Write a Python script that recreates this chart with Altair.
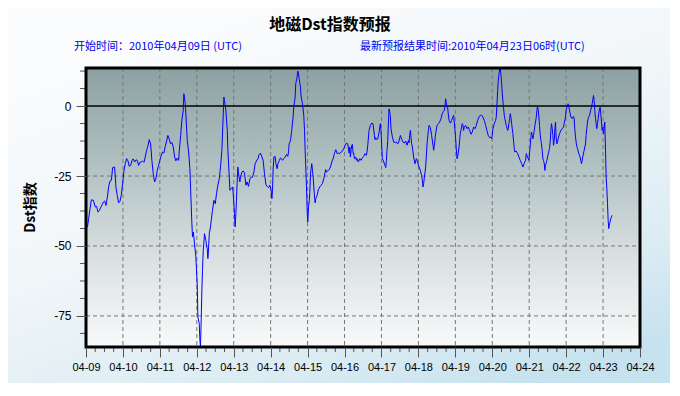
import altair as alt
import pandas as pd

# ---- data (hours since 2010-04-09 00 UTC, Dst nT) ----
hours = [
    1.0, 1.7, 2.6, 3.5, 4.8, 6.1, 6.9, 7.8, 8.7, 10.0, 11.3, 12.1, 13.0, 13.9, 14.7, 15.6, 16.5, 17.3, 18.6, 19.5,
    20.3, 21.2, 22.1, 22.9, 23.8, 24.7, 25.5, 26.4, 27.3, 28.1, 29.0, 29.9, 30.7, 31.6, 32.5, 33.3, 34.2, 35.1, 35.9, 36.8,
    37.7, 38.5, 39.4, 40.2, 41.1, 42.0, 42.8, 43.7, 44.6, 45.4, 46.3, 47.2, 48.0, 48.9, 49.8, 50.6, 51.5, 52.4, 53.2, 54.1,
    55.0, 55.8, 56.7, 57.6, 58.4, 59.3, 60.2,
    60.6, 61.5, 62.3, 63.2, 63.6, 64.5, 64.9, 65.8, 66.7, 67.5, 68.0, 68.8, 69.2, 69.7, 70.1, 70.5, 71.4, 72.3, 72.7, 73.6,
    74.0, 74.4, 74.9, 75.3, 75.7, 76.2, 76.6, 77.0, 77.9, 78.3, 78.8, 79.2, 79.6, 80.1, 80.9, 81.4, 82.2, 83.1, 84.0, 84.8,
    85.7, 86.6, 87.4, 88.3, 89.2, 89.6, 90.0, 90.9, 91.8, 92.2, 93.1, 93.5, 94.4, 95.2, 95.6, 96.5, 96.9, 97.4, 98.2, 98.7,
    99.1, 100.0, 100.4, 101.3, 102.1, 103.0, 103.9, 104.7, 105.6, 106.5, 107.3, 108.2, 109.1, 109.9, 110.8, 111.7, 112.5,
    113.4, 114.3, 115.1, 116.0, 116.9, 117.7, 118.6, 119.5, 120.3, 120.8, 121.2,
    121.6, 122.1, 122.9, 123.4, 124.2, 124.7, 125.5, 126.4, 126.8, 127.7, 128.5, 129.4, 130.3, 131.1, 131.6, 132.0, 132.9,
    133.7, 134.6, 135.0, 135.9, 136.3, 137.2, 137.6, 138.1, 138.5, 139.4, 139.8, 140.7, 141.5, 142.0, 142.4, 143.3, 143.7,
    144.1, 144.6, 145.0, 145.4, 145.9, 146.3, 146.7, 147.2, 147.6, 148.5, 148.9, 149.3, 150.2, 151.0, 151.9, 152.8, 153.6,
    154.5, 155.4, 155.8, 156.2, 157.1, 158.0, 158.8, 159.7, 160.6, 161.4, 162.3, 163.2, 164.0, 164.9, 165.8, 166.6, 167.5,
    168.4, 169.2, 170.1, 171.0, 171.4, 171.8, 172.3, 172.7, 173.1, 173.6, 174.0, 174.4, 175.3, 175.7, 176.1, 177.0, 177.9,
    178.7, 179.6, 180.5, 181.3, 182.2, 182.6, 183.1,
    183.9, 184.8, 185.7, 186.5, 187.4, 187.8, 188.3, 189.1, 189.6, 190.0, 190.4, 190.9, 191.3, 191.7, 192.2, 192.6, 193.5,
    194.3, 194.8, 195.2, 195.6, 196.1, 196.5, 196.9, 197.4, 197.8, 198.2, 199.1, 200.0, 200.8, 201.7, 202.6, 203.4, 204.3,
    205.2, 206.0, 206.9, 207.7, 208.6, 209.5, 209.9, 210.3, 210.8, 211.2, 211.6, 212.1, 212.9, 213.8, 214.7, 215.5, 216.4,
    217.3, 218.1, 218.6, 219.0, 219.4, 219.9, 220.7, 221.2, 221.6, 222.5, 222.9, 223.8, 224.6, 225.5, 225.9, 226.4, 226.8,
    227.2, 228.1, 229.0, 229.8, 230.7, 231.5, 232.4, 232.9, 233.3, 233.7, 234.1, 234.6, 235.0, 235.4, 235.9, 236.8, 237.6,
    238.5, 238.9, 239.3, 239.8, 240.2, 240.6, 241.1, 241.5, 242.0, 242.4, 242.8, 243.2, 244.1,
    244.5, 245.0, 245.4, 245.8, 246.7, 247.6, 248.4, 249.3, 250.2, 251.0, 251.9, 252.8, 253.6, 254.5, 255.4, 256.2, 257.1,
    257.9, 258.8, 259.7, 260.5, 261.4, 262.3, 263.1, 263.6, 264.0, 264.4, 265.3, 266.2, 266.6, 267.0, 267.5, 267.9, 268.3,
    268.8, 269.2, 269.6, 270.1, 270.5, 270.9, 271.4, 271.8, 272.2, 273.1, 274.0, 274.4, 274.8, 275.3, 275.7, 276.1, 276.6,
    277.0, 277.4, 277.9, 278.3, 278.7, 279.6, 280.5, 281.3, 282.2, 283.1, 283.9, 284.8, 285.7, 286.1, 286.5, 287.4, 287.8,
    288.2, 288.7, 289.1, 289.5, 290.0, 290.4, 290.8, 291.3, 291.7, 292.1, 292.6, 293.0, 293.4, 293.9, 294.3, 294.7, 295.2,
    295.6, 296.0, 296.5, 296.9, 297.3, 297.8, 298.2, 298.6, 299.5, 300.4, 301.2, 301.7, 302.1, 302.5, 303.0, 303.4, 303.8,
    304.3, 304.7, 305.1,
    305.5, 306.0, 306.4, 306.8, 307.7, 308.6, 309.4, 310.3, 310.7, 311.6, 312.0, 312.5, 313.3, 313.8, 314.6, 315.1, 315.9,
    316.8, 317.2, 317.6, 318.1, 318.5, 319.0, 319.4, 320.2, 321.1, 321.5, 322.0, 322.8, 323.7, 324.6, 325.0, 325.4, 325.9,
    326.3, 327.2, 328.0, 328.9, 329.8, 330.2, 330.6, 331.1, 331.5, 331.9, 332.4, 332.8, 333.2, 333.7, 334.1, 334.5, 335.0,
    335.4, 335.8, 336.3, 336.7, 337.1, 337.6, 338.0, 338.4, 338.9, 339.3, 339.7, 340.2, 340.6, 341.0, 341.5, 341.9,
]
dst = [
    -43.2, -40.2, -36.7, -33.5, -33.7, -36.1, -35.8, -37.9, -37.3, -35.8, -34.3, -33.9, -35.5, -32.5, -28.9, -26.8, -26.5, -22.0, -21.8, -29.2,
    -31.9, -34.6, -34.0, -31.9, -27.7, -23.0, -20.6, -18.8, -19.6, -21.5, -21.2, -19.4, -18.9, -20.0, -19.2, -19.4, -21.2, -20.1, -20.0, -19.6,
    -20.1, -18.2, -15.8, -14.4, -12.0, -13.5, -19.4, -24.2, -27.1, -26.0, -23.0, -21.2, -19.4, -17.6, -16.4, -16.8, -14.4, -12.5, -10.5, -11.8,
    -13.5, -13.0, -14.6, -18.2, -19.6, -18.6, -19.4,
    -16.1, -10.5, -5.1, -1.5, 4.4, 0.8, -2.7, -12.3, -16.4, -22.4, -30.1, -42.0, -46.8, -45.0, -46.8, -49.2, -53.9, -64.0, -75.4, -77.7,
    -83.7, -86.0, -75.4, -65.8, -58.7, -51.5, -48.6, -45.6, -48.0, -49.8, -51.0, -54.5, -51.5, -45.6, -43.2, -40.8, -37.3, -33.7, -34.9, -31.3,
    -28.3, -26.0, -21.8, -15.8, -2.7, 3.2, 2.0, -1.5, -8.7, -15.8, -25.4, -30.1, -29.5, -28.9, -30.7, -38.5, -43.2, -38.5, -27.7, -21.8,
    -24.2, -27.1, -25.4, -23.6, -23.2, -23.9, -28.3, -27.1, -28.7, -26.0, -25.4, -25.4, -23.6, -20.6, -19.6, -18.8, -17.3,
    -16.8, -18.2, -19.4, -24.2, -28.0, -28.7, -29.2, -28.3, -30.1, -33.1, -30.1,
    -22.5, -18.2, -18.0, -20.6, -22.4, -20.6, -19.6, -18.5, -18.8, -19.4, -18.8, -18.2, -17.3, -18.0, -16.4, -13.5, -12.3,
    -8.7, -3.9, -0.4, 3.2, 8.0, 10.4, 12.5, 11.5, 9.8, 6.8, 3.2, 0.8, -3.3, -8.7, -15.8, -28.9, -37.3,
    -41.4, -36.1, -34.3, -31.3, -24.2, -22.4, -20.6, -23.0, -25.4, -32.5, -34.6, -33.1, -31.9, -29.9, -28.9, -28.3, -27.7,
    -26.0, -23.6, -22.7, -23.6, -23.2, -22.7, -21.8, -20.0, -18.8, -17.0, -15.6, -17.0, -16.8, -17.0, -16.4, -16.1, -15.2,
    -14.0, -13.2, -13.5, -16.8, -14.6, -18.2, -15.6, -14.0, -13.7, -17.0, -16.8, -18.8, -18.2, -19.4, -18.8, -20.0, -18.8,
    -19.4, -18.5, -18.0, -17.0, -17.6, -16.4, -14.0,
    -8.7, -6.9, -6.1, -6.3, -10.5, -12.0, -11.3, -12.0, -11.7, -10.8, -9.6, -7.5, -6.3, -8.7, -14.6, -18.8, -20.0,
    -21.2, -22.0, -19.4, -15.8, -12.3, -6.3, -1.0, -2.1, -3.9, -8.1, -11.1, -12.9, -13.0, -12.9, -13.5, -12.5, -10.5,
    -12.0, -12.9, -13.2, -12.5, -14.0, -12.3, -13.2, -10.5, -8.7, -11.1, -13.5, -14.6, -18.2, -20.6, -18.8, -20.0, -21.8,
    -23.0, -24.8, -26.5, -28.9, -27.7, -25.4, -21.8, -17.6, -13.5, -8.7, -6.9, -7.7, -10.5, -14.0, -15.8, -14.0, -11.7,
    -9.9, -6.9, -6.3, -5.7, -4.5, -2.7, -1.8, -1.5, 0.2, 2.6, 1.1, -0.4, -0.4, -2.7, -5.1, -6.1, -5.1,
    -3.9, -3.3, -5.7, -8.7, -11.7, -15.2, -18.8, -18.0, -16.4, -14.6, -12.3, -9.9, -7.5,
    -6.3, -6.9, -8.7, -7.5, -6.9, -8.1, -7.5, -8.7, -10.1, -9.3, -7.5, -8.1, -6.9, -5.1, -3.9, -3.3, -3.3,
    -3.9, -5.1, -6.9, -8.7, -10.5, -11.3, -11.1, -11.7, -10.5, -8.1, -6.3, -5.1, -3.9, 0.2, 5.6, 9.2, 11.0,
    13.3, 13.3, 11.5, 8.0, 4.4, 2.0, -1.0, -3.3, -4.5, -6.9, -8.7, -8.1, -6.3, -4.5, -2.7, -3.9, -6.3,
    -8.1, -9.9, -12.9, -15.2, -16.4, -16.1, -17.0, -18.2, -19.4, -20.6, -21.8, -20.4, -19.4, -17.0, -17.6, -18.8, -19.4,
    -17.0, -14.0, -11.3, -9.3, -10.5, -11.7, -10.5, -8.7, -6.9, -5.7, -3.9, -1.5, -0.1, -1.5, -3.9, -6.9, -10.5,
    -12.3, -13.5, -16.1, -18.8, -19.4, -20.6, -23.0, -21.2, -19.4, -17.0, -15.2, -12.3, -8.7, -6.3, -8.1, -10.5, -14.0,
    -12.3, -8.1, -5.7,
    -11.1, -13.5, -12.9, -11.7, -9.9, -8.7, -8.1, -7.5, -6.3, -3.9, -1.5, -0.4, 0.8, -0.4, -2.7, -3.9, -4.5,
    -3.7, -4.5, -8.1, -11.1, -12.9, -14.6, -15.2, -17.0, -18.2, -19.4, -20.6, -18.2, -15.8, -13.5, -10.5, -8.1, -5.7,
    -4.5, -3.3, -1.5, 0.8, 3.8, 2.0, -1.5, -4.5, -6.3, -8.1, -6.3, -4.5, -2.7, -1.0, -0.4, -2.7, -5.7,
    -8.7, -7.5, -9.9, -8.1, -5.7, -15.8, -25.4, -28.9, -34.9, -40.8, -43.8, -42.0, -41.4, -40.2, -39.6, -39.0,
]

day_labels = ["04-09", "04-10", "04-11", "04-12", "04-13", "04-14", "04-15", "04-16",
              "04-17", "04-18", "04-19", "04-20", "04-21", "04-22", "04-23", "04-24"]
day_hours = [0, 24, 48, 72, 96, 120, 144, 168, 192, 216, 240, 264, 288, 312, 336, 360]
minor_x = [h for h in range(6, 360, 6) if h % 24 != 0]
y_major = [-75, -50, -25, 0]
y_minor = [12.5, 6.25, -6.25, -12.5, -18.75, -31.25, -37.5, -43.75, -56.25, -62.5, -68.75, -81.25]

title_text = "地磁Dst指数预报"
sub_left = "开始时间：2010年04月09日 (UTC)"
sub_right = "最新预报结果时间:2010年04月23日06时(UTC)"
y_title = "Dst指数"

W, H = 554, 279
PL, PT, PR, PB = 78, 60, 30, 36

xs = alt.Scale(domain=[0, 360], nice=False, zero=False)
ys = alt.Scale(domain=[-86.1, 13.6], nice=False, zero=False)

label_arr = "[" + ",".join("'" + s + "'" for s in day_labels) + "]"

# one shared axis definition per channel, used by every layer that has a field on it
x_axis = alt.Axis(
    values=day_hours, labelExpr=label_arr + "[round(datum.value/24)]",
    tickSize=10, tickColor="#555555", domain=False, grid=False,
    labelFont="Liberation Sans", labelFontSize=11, labelColor="black",
    labelPadding=4, title=None, zindex=1, labelFlush=False, labelOverlap=False)
y_axis = alt.Axis(
    values=y_major, labelExpr="datum.value + ''",
    tickSize=10, tickColor="#555555", domain=False, grid=False,
    labelFont="Liberation Sans", labelFontSize=12, labelColor="black",
    labelPadding=5, zindex=1, title=y_title,
    titleFont="Noto Sans CJK SC", titleFontSize=14, titleFontWeight="bold",
    titleColor="black", titleAngle=270, titleX=-56, titleY=139,
    titleAlign="center", titleBaseline="middle")

one = pd.DataFrame({"a": [0]})
df = pd.DataFrame({"h": hours, "v": dst})

# page background: pale sky, whiter at the top, bluer towards the lower right
pagebg = alt.Chart(one).mark_rect(
    fill=alt.LinearGradient(
        gradient="linear",
        stops=[alt.GradientStop(offset=0, color="#fbfcfd"),
               alt.GradientStop(offset=0.45, color="#f1f6f9"),
               alt.GradientStop(offset=0.8, color="#dcecf3"),
               alt.GradientStop(offset=1, color="#c6e2ef")],
        x1=0.2, y1=0, x2=0.8, y2=1)
).encode(x=alt.value(-PL), x2=alt.value(W + PR), y=alt.value(-PT), y2=alt.value(H + PB))

plotbg = alt.Chart(one).mark_rect(
    fill=alt.LinearGradient(
        gradient="linear",
        stops=[alt.GradientStop(offset=0, color="#8da1a2"),
               alt.GradientStop(offset=0.4, color="#b7c5c6"),
               alt.GradientStop(offset=0.7, color="#dce2e3"),
               alt.GradientStop(offset=1, color="#f8fafa")],
        x1=0, x2=0, y1=0, y2=1)
).encode(x=alt.value(0), x2=alt.value(W), y=alt.value(0), y2=alt.value(H))

vgrid = alt.Chart(pd.DataFrame({"h": day_hours[1:-1]})).mark_rule(
    color="#777777", strokeDash=[4, 3], strokeWidth=1
).encode(x=alt.X("h:Q", scale=xs, axis=x_axis), y=alt.value(0), y2=alt.value(H))

hgrid = alt.Chart(pd.DataFrame({"v": [-75, -50, -25]})).mark_rule(
    color="#777777", strokeDash=[4, 3], strokeWidth=1
).encode(y=alt.Y("v:Q", scale=ys, axis=y_axis), x=alt.value(0), x2=alt.value(W))

zero = alt.Chart(pd.DataFrame({"v": [0]})).mark_rule(
    color="black", strokeWidth=1.5
).encode(y=alt.Y("v:Q", scale=ys, axis=y_axis), x=alt.value(0), x2=alt.value(W))

line = alt.Chart(df).mark_line(color="#0000ff", strokeWidth=1, interpolate="linear").encode(
    x=alt.X("h:Q", scale=xs, axis=x_axis),
    y=alt.Y("v:Q", scale=ys, axis=y_axis),
)

xminor = alt.Chart(pd.DataFrame({"h": minor_x})).mark_rule(color="#555555", strokeWidth=1).encode(
    x=alt.X("h:Q", scale=xs, axis=x_axis), y=alt.value(H), y2=alt.value(H + 5))

yminor = alt.Chart(pd.DataFrame({"v": y_minor})).mark_rule(color="#555555", strokeWidth=1).encode(
    y=alt.Y("v:Q", scale=ys, axis=y_axis), x=alt.value(-6), x2=alt.value(0))

frame = alt.Chart(one).mark_rect(fillOpacity=0, stroke="black", strokeWidth=3).encode(
    x=alt.value(0), x2=alt.value(W), y=alt.value(0), y2=alt.value(H))

title = alt.Chart(pd.DataFrame({"t": [title_text]})).mark_text(
    font="Noto Sans CJK SC", fontSize=16, fontWeight="bold", color="black",
    align="center", baseline="middle"
).encode(x=alt.value(244), y=alt.value(-43), text="t:N")

subl = alt.Chart(pd.DataFrame({"t": [sub_left]})).mark_text(
    font="Noto Sans CJK SC", fontSize=11, color="#0000ee", align="left", baseline="middle"
).encode(x=alt.value(-12), y=alt.value(-21.5), text="t:N")

subr = alt.Chart(pd.DataFrame({"t": [sub_right]})).mark_text(
    font="Noto Sans CJK SC", fontSize=11, color="#0000ee", align="left", baseline="middle"
).encode(x=alt.value(274), y=alt.value(-21.5), text="t:N")

chart = alt.layer(
    pagebg, plotbg, vgrid, hgrid, zero, line, xminor, yminor, frame, title, subl, subr
).properties(
    width=W, height=H,
    padding={"left": PL, "top": PT, "right": PR, "bottom": PB},
    autosize=alt.AutoSizeParams(type="none"),
    background="#eef5f8",
).configure_view(strokeWidth=0)

chart.save("out.html", embed_options={"renderer": "svg", "actions": False})
